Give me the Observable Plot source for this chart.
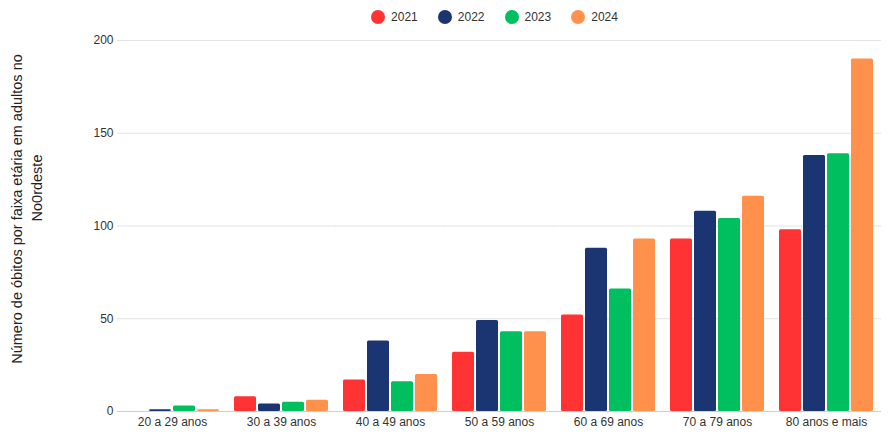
<!DOCTYPE html>
<html>
<head>
<meta charset="utf-8">
<script src="https://cdn.jsdelivr.net/npm/d3@7"></script>
<script src="https://cdn.jsdelivr.net/npm/@observablehq/plot@0.6"></script>
<style>
  body { margin: 0; background: #fff; font-family: "Liberation Sans", Arial, sans-serif; }
  #legend { height: 34px; display: flex; justify-content: center; align-items: center; padding-left: 96px; box-sizing: border-box; width: 893px; font-size: 12px; color: #333; }
  #legend .item { display: flex; align-items: center; margin: 0 10px; }
  #legend .dot { width: 14px; height: 14px; border-radius: 50%; margin-right: 6px; }
</style>
</head>
<body>
<div id="legend"></div>
<div id="chart"></div>
<script>
const groups = ["20 a 29 anos", "30 a 39 anos", "40 a 49 anos", "50 a 59 anos", "60 a 69 anos", "70 a 79 anos", "80 anos e mais"];
const years = ["2021", "2022", "2023", "2024"];
const v2021 = [0, 8, 17, 32, 52, 93, 98];
const v2022 = [1, 4, 38, 49, 88, 108, 138];
const v2023 = [3, 5, 16, 43, 66, 104, 139];
const v2024 = [1, 6, 20, 43, 93, 116, 190];
const colors = ["#ff3333", "#1b3573", "#00bf5f", "#ff914d"];
const yTicks = [0, 50, 100, 150, 200];
const yLabel1 = "Número de óbitos por faixa etária em adultos no";
const yLabel2 = "No0rdeste";

const series = [v2021, v2022, v2023, v2024];
const data = [];
groups.forEach((g, i) => years.forEach((y, j) => data.push({group: g, year: y, value: series[j][i]})));

const legend = document.getElementById("legend");
years.forEach((y, j) => {
  const it = document.createElement("div");
  it.className = "item";
  it.innerHTML = `<span class="dot" style="background:${colors[j]}"></span><span>${y}</span>`;
  legend.appendChild(it);
});

const chart = Plot.plot({
  width: 893,
  height: 405,
  marginTop: 6,
  marginBottom: 28,
  marginLeft: 119,
  marginRight: 14,
  style: {fontFamily: "Liberation Sans, Arial, sans-serif", fontSize: "12px", color: "#333"},
  fx: {domain: groups, paddingInner: 0.08, paddingOuter: 0, label: null, tickSize: 0, tickPadding: 6},
  x: {domain: years, padding: 0.08, axis: null},
  y: {domain: [0, 200], ticks: yTicks, label: null, tickSize: 0, tickPadding: 9},
  color: {domain: years, range: colors},
  marks: [
    Plot.ruleY(yTicks.filter(d => d > 0), {stroke: "#e3e3e3", insetLeft: -5, insetRight: -5}),
    Plot.ruleY([0], {stroke: "#cfcfcf", insetLeft: -5, insetRight: -5}),
    Plot.barY(data, {fx: "group", x: "year", y: "value", fill: "year", rx: 1.5})
  ]
});

const svg = d3.select(chart);
svg.append("text")
  .attr("transform", "translate(18,175) rotate(-90)")
  .attr("text-anchor", "middle").attr("dominant-baseline", "middle")
  .attr("font-size", 14.5).attr("fill", "#222")
  .text(yLabel1);
svg.append("text")
  .attr("transform", "translate(38,154) rotate(-90)")
  .attr("text-anchor", "middle").attr("dominant-baseline", "middle")
  .attr("font-size", 14.5).attr("fill", "#222")
  .text(yLabel2);

document.getElementById("chart").appendChild(chart);
</script>
</body>
</html>
